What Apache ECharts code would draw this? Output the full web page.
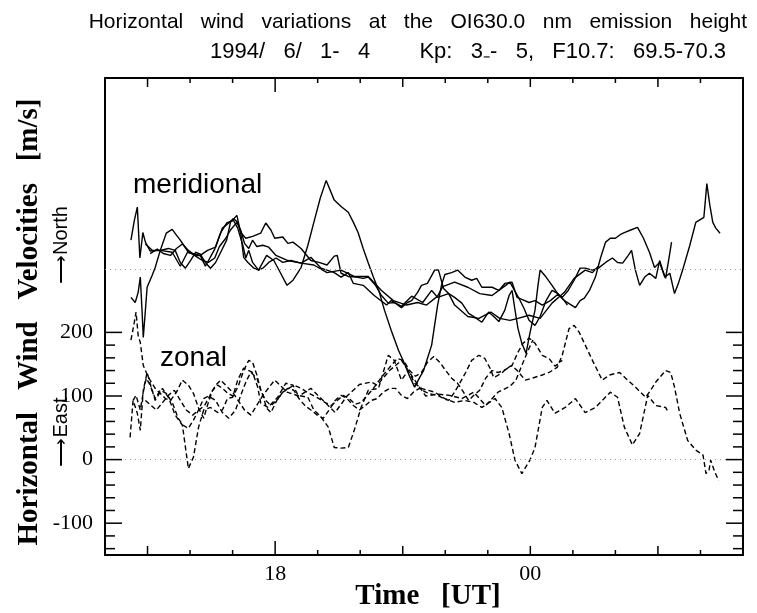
<!DOCTYPE html>
<html>
<head>
<meta charset="utf-8">
<title>Horizontal wind variations</title>
<script src="https://cdn.jsdelivr.net/npm/echarts@6/dist/echarts.min.js"></script>
<style>
  html, body { margin: 0; padding: 0; background: #fff; }
  #chart { width: 757px; height: 613px; }
</style>
</head>
<body>
<div id="chart"></div>
<script>
// time in UT hours (24 = 00 UT of next day), velocity in m/s
// meridional (north +), drawn shifted up by MER_OFFSET
const merid1 = [[14.61,45],[14.69,76],[14.76,97],[14.82,17],[14.89,57],[14.95,42],[15.06,28],[15.30,29],[15.58,26],[15.77,4],[15.94,26],[16.24,21],[16.36,4],[16.58,31],[16.72,57],[16.86,72],[17.02,76],[17.12,64],[17.24,37],[17.31,17],[17.38,29],[17.47,10],[17.61,-2],[17.80,21],[17.97,13],[18.13,-7],[18.28,-26],[18.42,-18],[18.61,2],[18.77,37],[18.91,73],[19.06,111],[19.20,139],[19.39,108],[19.55,98],[19.72,89],[19.84,73],[19.95,57],[20.07,32],[20.19,9],[20.31,-13],[20.45,-37],[20.57,-65],[20.73,-97],[20.90,-128],[21.04,-149],[21.16,-169],[21.28,-186],[21.39,-172],[21.49,-160],[21.58,-141],[21.68,-120],[21.82,-57],[21.91,-26],[21.99,-9],[22.15,-6],[22.29,-2],[22.46,-13],[22.62,-18],[22.74,-15],[22.86,-29],[23.10,-29],[23.26,-34],[23.40,-23],[23.57,-21],[23.69,-45],[23.80,-48],[23.97,-53],[24.11,-50],[24.28,-57],[24.47,-50],[24.65,-40],[24.80,-50],[24.94,-56],[25.06,-61],[25.17,-50],[25.27,-46],[25.39,-34],[25.53,-13],[25.65,17],[25.77,42],[25.88,48],[26.00,48],[26.12,54],[26.21,57],[26.36,61],[26.52,65],[26.66,48],[26.80,26],[26.92,2],[27.04,10],[27.16,-13],[27.28,-7],[27.39,-39],[27.49,-21],[27.58,-2],[27.75,37],[27.89,73],[28.08,81],[28.15,134],[28.22,100],[28.29,73],[28.36,64],[28.46,56]];
const merid2 = [[14.61,-45],[14.71,-53],[14.78,-37],[14.83,-13],[14.87,-65],[14.90,-108],[14.95,-65],[14.99,-29],[15.11,-10],[15.18,2],[15.30,29],[15.44,56],[15.58,62],[15.68,53],[15.77,45],[15.96,26],[16.13,21],[16.24,21],[16.41,29],[16.60,34],[16.76,64],[16.91,72],[17.02,79],[17.12,73],[17.19,57],[17.31,48],[17.47,51],[17.66,56],[17.78,72],[17.90,61],[17.99,48],[18.18,50],[18.30,40],[18.42,42],[18.61,32],[18.84,13],[19.03,10],[19.22,6],[19.39,20],[19.46,21],[19.55,-7],[19.72,-12],[19.91,-13],[20.07,-15],[20.19,-13],[20.36,-26],[20.50,-42],[20.66,-54],[20.80,-53],[20.97,-61],[21.11,-53],[21.21,-50],[21.35,-37],[21.44,-26],[21.58,-23],[21.75,-2],[21.84,-2],[21.96,-31],[22.08,-39],[22.22,-45],[22.39,-54],[22.55,-70],[22.69,-76],[22.86,-84],[23.02,-68],[23.14,-75],[23.26,-83],[23.40,-65],[23.50,-42],[23.57,-34],[23.64,-65],[23.71,-94],[23.80,-117],[23.90,-133],[23.99,-101],[24.11,-65],[24.18,-26],[24.23,-2],[24.37,-13],[24.51,-26],[24.65,-40],[24.75,-45],[24.89,-34],[25.03,-18],[25.17,1],[25.29,1],[25.46,-2],[25.60,1],[25.77,10],[25.93,17],[26.05,10],[26.17,9],[26.29,20],[26.38,29],[26.47,-2],[26.57,-26],[26.69,-13],[26.80,-7],[26.95,-15],[27.04,13],[27.11,-2],[27.18,-15],[27.25,13],[27.32,42]];
const merid3 = [[14.95,39],[15.11,29],[15.30,29],[15.49,32],[15.65,29],[15.77,10],[15.89,1],[16.01,13],[16.13,26],[16.24,23],[16.36,10],[16.48,1],[16.60,10],[16.72,26],[16.86,45],[16.95,73],[17.10,84],[17.19,57],[17.26,18],[17.36,10],[17.50,1],[17.61,-2],[17.71,1],[17.85,10],[18.02,17],[18.18,10],[18.37,13],[18.61,9],[18.84,18],[19.08,1],[19.39,-6],[19.55,-13],[19.72,-6],[19.84,-23],[20.07,-26],[20.33,-42],[20.62,-57],[20.73,-50],[20.97,-59],[21.21,-43],[21.47,-53],[21.68,-34],[21.82,-45],[22.08,-39],[22.22,-57],[22.53,-75],[22.79,-78],[23.07,-68],[23.28,-78],[23.52,-81],[23.71,-78],[23.97,-73],[24.23,-78],[24.51,-54],[24.80,-37],[25.03,-15],[25.29,-2],[25.46,-6],[25.60,4]];
const merid4 = [[15.06,24],[15.23,31],[15.37,24],[15.54,21],[15.68,32],[15.82,39],[15.96,29],[16.13,20],[16.29,13],[16.43,10],[16.58,17],[16.69,35],[16.84,48],[16.95,61],[17.10,73],[17.19,61],[17.28,40],[17.38,32],[17.47,45],[17.57,35],[17.71,37],[17.85,34],[18.02,21],[18.30,13],[18.61,9],[18.91,6],[19.22,-6],[19.55,-2],[19.86,-12],[20.19,-12],[20.50,-34],[20.78,-50],[21.09,-57],[21.35,-53],[21.56,-57],[21.82,-43],[21.94,-28],[22.22,-21],[22.53,-29],[22.81,-39],[23.10,-42],[23.38,-28],[23.52,-21],[23.73,-46],[23.85,-62],[23.97,-81],[24.11,-89],[24.23,-75],[24.37,-50],[24.51,-34],[24.65,-39],[24.80,-50],[24.87,-57]];
// zonal (east +)
const zonal1 = [[14.59,35],[14.66,93],[14.76,73],[14.83,46],[14.90,109],[14.99,137],[15.06,120],[15.18,93],[15.35,112],[15.49,98],[15.65,70],[15.82,54],[15.96,-14],[16.08,4],[16.20,51],[16.32,78],[16.48,82],[16.65,74],[16.76,78],[16.88,96],[17.00,98],[17.12,125],[17.26,144],[17.47,137],[17.59,114],[17.66,89],[17.83,82],[18.06,98],[18.25,120],[18.42,117],[18.54,101],[18.77,98],[18.91,78],[19.08,67],[19.25,51],[19.39,19],[19.55,18],[19.72,19],[19.86,46],[20.02,82],[20.19,109],[20.43,112],[20.66,164],[20.80,156],[20.97,125],[21.13,140],[21.28,120],[21.44,112],[21.75,106],[21.99,96],[22.22,90],[22.46,93],[22.67,90],[22.86,82],[23.17,96],[23.33,82],[23.50,41],[23.64,-1],[23.80,-22],[23.99,-1],[24.11,19],[24.28,82],[24.39,93],[24.58,73],[24.82,82],[25.06,96],[25.29,74],[25.53,82],[25.88,106],[26.05,98],[26.21,51],[26.40,23],[26.57,41],[26.76,101],[26.95,85],[27.18,82],[27.25,74]];
const zonal2 = [[14.61,188],[14.69,216],[14.73,232],[14.78,195],[14.83,184],[14.90,148],[14.97,137],[15.06,125],[15.18,112],[15.30,104],[15.42,96],[15.54,93],[15.68,106],[15.82,125],[15.96,117],[16.08,104],[16.20,81],[16.32,65],[16.43,90],[16.53,109],[16.65,117],[16.76,112],[16.91,103],[17.02,100],[17.14,117],[17.26,140],[17.38,156],[17.47,153],[17.57,133],[17.66,109],[17.78,93],[17.90,85],[18.04,93],[18.18,106],[18.32,112],[18.44,117],[18.61,112],[18.75,106],[18.89,101],[19.03,96],[19.17,90],[19.32,85],[19.46,93],[19.60,101],[19.74,96],[19.88,87],[20.02,90],[20.17,101],[20.31,112],[20.45,125],[20.59,137],[20.73,148],[20.87,159],[21.02,156],[21.16,140],[21.30,131],[21.44,137],[21.58,153],[21.73,162],[21.87,153],[22.01,140],[22.15,128],[22.29,120],[22.43,106],[22.55,93],[22.67,101],[22.81,109],[22.95,128],[23.10,140],[23.24,137],[23.38,140],[23.57,148],[23.71,169],[23.83,183],[23.97,191],[24.11,183],[24.28,164],[24.44,159],[24.58,147],[24.75,156]];
const zonal3 = [[14.66,93],[14.73,101],[14.83,78],[14.90,106],[14.97,128],[15.06,117],[15.18,96],[15.30,109],[15.44,104],[15.58,90],[15.72,65],[15.84,54],[15.96,49],[16.08,62],[16.20,78],[16.32,96],[16.43,100],[16.60,93],[16.76,74],[16.91,65],[17.07,78],[17.19,101],[17.33,125],[17.43,137],[17.57,128],[17.71,101],[17.80,81],[17.90,74],[18.04,93],[18.18,106],[18.30,112],[18.44,109],[18.56,96],[18.70,85],[18.84,78],[18.99,70],[19.13,65],[19.27,78],[19.41,93],[19.55,101],[19.69,96],[19.84,85],[19.98,78],[20.12,85],[20.26,93],[20.40,96],[20.54,106],[20.69,112],[20.83,112],[20.97,101],[21.11,96],[21.25,106],[21.39,112],[21.54,106],[21.68,103],[21.82,101],[21.96,96],[22.08,93],[22.20,104],[22.34,120],[22.48,137],[22.62,156],[22.79,164],[22.93,159],[23.05,144],[23.14,129],[23.33,136],[23.45,144],[23.57,148],[23.69,140],[23.88,125],[24.04,128],[24.28,133],[24.44,137],[24.63,145],[24.75,164],[24.91,206],[25.03,211],[25.15,200],[25.27,183],[25.46,156],[25.69,125],[25.86,133],[26.10,137],[26.24,128],[26.47,114],[26.71,98],[26.83,109],[26.95,122],[27.18,140],[27.30,137],[27.39,114],[27.51,73],[27.70,30],[27.89,15],[28.06,7],[28.13,-22],[28.20,-17],[28.24,-1],[28.34,-20],[28.43,-33]];
const zonal4 = [[14.95,93],[15.21,78],[15.49,101],[15.63,109],[15.91,78],[16.06,70],[16.34,85],[16.60,117],[16.72,125],[17.00,106],[17.28,78],[17.43,70],[17.71,101],[17.99,125],[18.28,106],[18.56,100],[18.84,112],[19.13,93],[19.41,74],[19.69,100],[19.98,118],[20.26,122],[20.40,117],[20.69,140],[20.97,156],[21.25,128],[21.54,100],[21.82,103],[22.10,101],[22.39,96],[22.67,106],[22.95,85],[23.24,106],[23.52,115],[23.66,125],[23.80,148],[23.95,172],[24.06,188]];

const MER_OFFSET = 300;
const Y_MIN = -150, Y_MAX = 600;
const X_MIN = 14, X_MAX = 29;
// frame ticks (the original has no y ticks above 200)
const yTickMajor = [-100, 0, 100, 200];
const yTickMinor = [-140, -120, -80, -60, -40, -20, 20, 40, 60, 80, 120, 140, 160, 180];
const xTickHour = [16, 17, 19, 20, 22, 23, 25, 26, 28];
const xTickMid = [15, 21, 24, 27];
const xTickBig = [18];
const xLabelValues = [18, 24];
const xTickLabels = { 18: '18', 24: '00' };

const SERIF = '"Liberation Serif", "Times New Roman", serif';
const SANS = '"Liberation Sans", Arial, sans-serif';
const FRAME = { color: '#000', width: 2 };

function frameAxis(extra) {
	return Object.assign({
		type: 'value',
		axisLine: { show: true, onZero: false, lineStyle: FRAME },
		axisTick: { show: false },
		axisLabel: { show: false },
		splitLine: { show: false }
	}, extra);
}

function meridSeries(data) {
	return {
		type: 'line', showSymbol: false, symbol: 'none',
		lineStyle: { color: '#000', width: 1.4 },
		data: data.map(function(p) { return [p[0], p[1] + MER_OFFSET] })
	}
}

function zonalSeries(data) {
	return {
		type: 'line', showSymbol: false, symbol: 'none',
		lineStyle: { color: '#000', width: 1.4, type: [5, 3] },
		data: data
	}
}

// ticks: [side, value, length]; side 0 left, 1 right, 2 bottom, 3 top
const tickData = [];
function addTicks(sides, values, len) {
	sides.forEach(function(s) {
		values.forEach(function(v) { tickData.push([s, v, len]) });
	});
}
addTicks([0, 1], yTickMinor, 10);
addTicks([0, 1], yTickMajor, 17);
addTicks([2, 3], xTickHour, 5);
addTicks([2, 3], xTickMid, 9);
addTicks([2, 3], xTickBig, 14);

function renderTick(params, api) {
	const side = api.value(0), v = api.value(1), len = api.value(2);
	let p, q;
	if (side === 0) { p = api.coord([X_MIN, v]); q = [p[0] + len, p[1]]; }
	else if (side === 1) { p = api.coord([X_MAX, v]); q = [p[0] - len, p[1]]; }
	else if (side === 2) { p = api.coord([v, Y_MIN]); q = [p[0], p[1] - len]; }
	else { p = api.coord([v, Y_MAX]); q = [p[0], p[1] + len]; }
	return {
		type: 'line',
		shape: { x1: p[0], y1: p[1], x2: q[0], y2: q[1] },
		style: { stroke: '#000', lineWidth: 1.5 }
	};
}

function label(x, y, text, font, align, rotation) {
	return {
		type: 'text', x: x, y: y, rotation: rotation || 0,
		style: { text: text, font: font, fill: '#000', align: align, verticalAlign: 'middle', textAlign: align, textVerticalAlign: 'middle' }
	}
}

const chart = echarts.init(document.getElementById('chart'));
const series = [merid1, merid2, merid3, merid4].map(meridSeries)
	.concat([zonal1, zonal2, zonal3, zonal4].map(zonalSeries));

// dotted zero lines (meridional zero sits at MER_OFFSET)
series[0].markLine = {
	silent: true,
	symbol: ['none', 'none'],
	label: { show: false },
	lineStyle: { type: [1, 4], color: '#999', width: 1 },
	data: [{ yAxis: MER_OFFSET }, { yAxis: 0 }]
};

series.push({
	type: 'custom',
	renderItem: renderTick,
	silent: true,
	encode: { x: -1, y: -1 },
	data: tickData,
	z: 5
});

const option = {
	animation: false,
	backgroundColor: '#fff',
	grid: { left: 105, right: 14, top: 78, bottom: 58 },
	xAxis: [
		frameAxis({
			position: 'bottom', min: X_MIN, max: X_MAX,
			axisLabel: {
				show: true, customValues: xLabelValues, margin: 8, color: '#000', fontFamily: SERIF, fontSize: 22,
				formatter: function(v) { return xTickLabels[v] || '' }
			}
		}),
		frameAxis({ position: 'top', min: X_MIN, max: X_MAX })
	],
	yAxis: [
		frameAxis({
			position: 'left', min: Y_MIN, max: Y_MAX,
			axisLabel: { show: true, customValues: yTickMajor, margin: 12, color: '#000', fontFamily: SERIF, fontSize: 22 }
		}),
		frameAxis({ position: 'right', min: Y_MIN, max: Y_MAX })
	],
	graphic: [
		label(747, 22, 'Horizontal   wind   variations   at   the   OI630.0   nm   emission   height', '21px ' + SANS, 'right'),
		label(210, 52, '1994/   6/   1-   4', '22px ' + SANS, 'left'),
		label(726, 52, 'Kp:   3\u208B-   5,   F10.7:   69.5-70.3', '22px ' + SANS, 'right'),
		label(30, 322, 'Horizontal   Wind   Velocities   [m/s]', 'bold 29px ' + SERIF, 'center', Math.PI / 2),
		label(61, 245, '\u27F6North', '20px ' + SANS, 'center', Math.PI / 2),
		label(61, 432, '\u27F6East', '20px ' + SANS, 'center', Math.PI / 2),
		label(428, 597, 'Time   [UT]', 'bold 29px ' + SERIF, 'center'),
		label(133, 185, 'meridional', '28px ' + SANS, 'left'),
		label(160, 358, 'zonal', '28px ' + SANS, 'left')
	],
	series: series
};
chart.setOption(option);
</script>
</body>
</html>
